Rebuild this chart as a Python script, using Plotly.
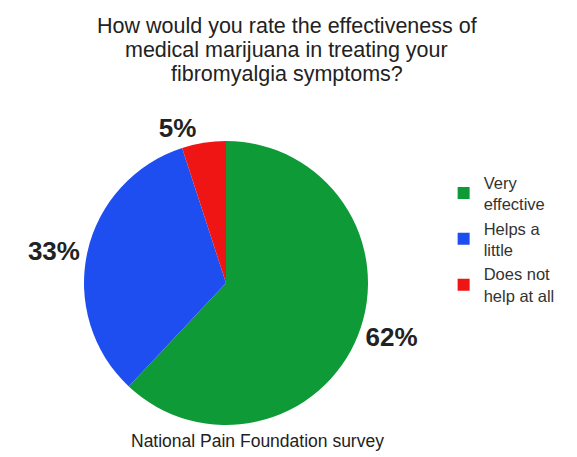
import plotly.graph_objects as go

labels = ["Very<br>effective", "Helps a<br>little", "Does not<br>help at all"]
values = [62, 33, 5]
colors = ["#0F9A38", "#1E4EF0", "#F01515"]
title_lines = ["How would you rate the effectiveness of",
               "medical marijuana in treating your",
               "fibromyalgia symptoms?"]
source_text = "National Pain Foundation survey"

FONT = "Liberation Sans, Arial, sans-serif"

fig = go.Figure(go.Pie(
    labels=labels,
    values=values,
    marker=dict(colors=colors, line=dict(width=0)),
    sort=False,
    direction="clockwise",
    rotation=0,
    texttemplate="<b>%{percent:.0%}</b>",
    textposition="outside",
    textfont=dict(size=26, color="#222222", family=FONT),
    domain=dict(x=[76/577, 360/577], y=[1-417/457, 1-133/457]),
    hoverinfo="label+percent",
))

title_y = [18, 42, 66]
annotations = []
for line, yy in zip(title_lines, title_y):
    annotations.append(dict(text=line, x=0.4835, y=1-yy/457, xref="paper", yref="paper",
                            showarrow=False, font=dict(size=21.5, color="#222222", family=FONT),
                            xanchor="center", yanchor="middle"))
annotations.append(dict(text=source_text, x=0.432, y=1-433/457, xref="paper", yref="paper",
                        showarrow=False, font=dict(size=17.5, color="#222222", family=FONT),
                        xanchor="center", yanchor="middle"))

fig.update_layout(
    width=577, height=457,
    margin=dict(l=0, r=0, t=0, b=0),
    paper_bgcolor="white",
    font=dict(family=FONT, color="#222222"),
    showlegend=True,
    legend=dict(x=0.755, y=0.6565, xanchor="left", yanchor="top",
                font=dict(size=16.5, color="#333333", family=FONT),
                itemwidth=30),
    annotations=annotations,
)

fig.write_html("out.html")
